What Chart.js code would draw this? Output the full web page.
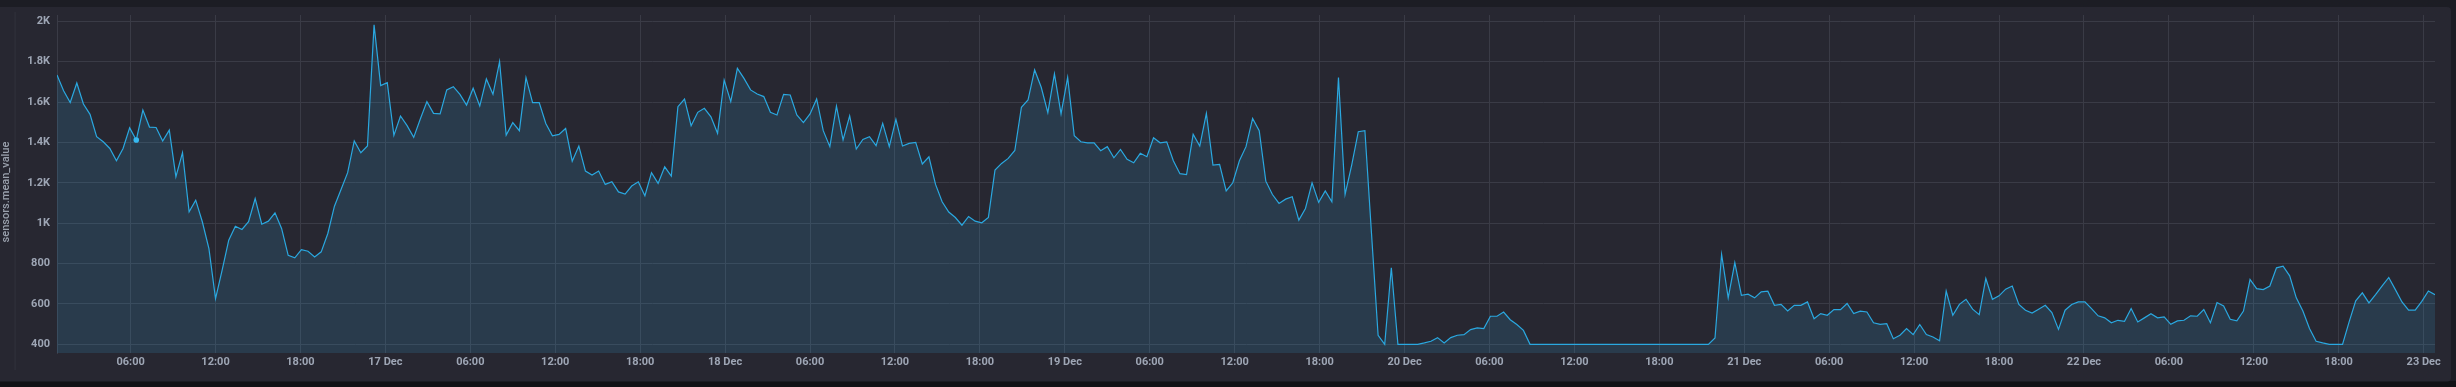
<!DOCTYPE html>
<html>
<head>
<meta charset="utf-8">
<script src="https://cdn.jsdelivr.net/npm/chart.js@4.4.1/dist/chart.umd.min.js"></script>
<style>
  html, body { margin: 0; padding: 0; background: #1c1d24; }
  canvas { display: block; }
</style>
</head>
<body>
<canvas id="sensorchart" width="2456" height="387"></canvas>
<script>
// time axis: hours counted from 16 Dec 00:00, one sample every 28 min
var startHour = 0.8;
var stepHours = 28 / 60;

var xTickHours = [6, 12, 18, 24, 30, 36, 42, 48, 54, 60, 66, 72, 78, 84, 90, 96,
                  102, 108, 114, 120, 126, 132, 138, 144, 150, 156, 162, 168];
var xTickLabels = ['06:00', '12:00', '18:00', '17 Dec', '06:00', '12:00', '18:00', '18 Dec',
                   '06:00', '12:00', '18:00', '19 Dec', '06:00', '12:00', '18:00', '20 Dec',
                   '06:00', '12:00', '18:00', '21 Dec', '06:00', '12:00', '18:00', '22 Dec',
                   '06:00', '12:00', '18:00', '23 Dec'];

var yTickValues = [400, 600, 800, 1000, 1200, 1400, 1600, 1800, 2000];
var yTickLabels = ['400', '600', '800', '1K', '1.2K', '1.4K', '1.6K', '1.8K', '2K'];

// sensors.mean_value
var meanValue = [
  1734, 1656, 1598, 1694, 1590, 1539, 1428, 1403, 1370, 1309, 1370, 1472, 1412, 1560, 1476, 1474,
  1407, 1461, 1230, 1349, 1056, 1114, 1007, 874, 626, 767, 916, 985, 969, 1007, 1122, 995,
  1010, 1051, 974, 841, 828, 869, 861, 833, 858, 949, 1084, 1167, 1250, 1407, 1349, 1382,
  1982, 1681, 1696, 1435, 1531, 1483, 1425, 1516,
  1602, 1544, 1541, 1660, 1676, 1638, 1585, 1668, 1580, 1714, 1638, 1800, 1436, 1498, 1458, 1721,
  1597, 1597, 1494, 1433, 1440, 1469, 1307, 1382, 1258, 1238, 1258, 1192, 1205, 1155, 1144, 1184,
  1205, 1136, 1250, 1197, 1279, 1233, 1577, 1615, 1483, 1549, 1569, 1527, 1445, 1709, 1602, 1767,
  1717, 1660, 1640, 1627, 1549, 1536, 1638, 1635, 1536, 1498, 1541, 1615,
  1458, 1379, 1580, 1412, 1532, 1367, 1415, 1428, 1384, 1494, 1379, 1514, 1382, 1395, 1400, 1293,
  1329, 1192, 1106, 1055, 1028, 990, 1033, 1010, 1002, 1028, 1263, 1296, 1321, 1360, 1574, 1610,
  1759, 1673, 1547, 1739, 1541, 1722, 1433, 1403, 1398, 1398, 1359, 1379, 1324, 1365, 1316, 1299,
  1346, 1329, 1423, 1398, 1403, 1309, 1245, 1241, 1440, 1382, 1544, 1288, 1291,
  1160, 1200, 1309, 1379, 1519, 1458, 1208, 1142, 1098, 1119, 1131, 1015, 1073, 1200, 1103, 1160,
  1106, 1721, 1142, 1288, 1453, 1458, 949, 445, 400, 779, 400, 400, 400, 400, 407, 415,
  433, 407, 433, 445, 448, 473, 481, 478, 539, 539, 560, 522, 498, 469, 400,
  400, 400, 400, 400, 400, 400, 400, 400, 400, 400, 400, 400, 400, 400, 400, 400,
  400, 400, 400, 400, 400, 400, 400, 400, 400, 400,
  400, 431, 845, 630, 805, 643, 648, 630, 660, 663, 593, 598, 565, 593, 593, 610,
  527, 552, 544, 572, 572, 602, 552, 564, 560, 507, 499, 502, 428, 445, 478, 448,
  498, 448, 436, 417, 664, 544, 598, 623, 574, 547, 726, 623, 640, 673, 689, 598,
  569, 555, 574, 593, 557, 474, 569, 597, 610, 610, 577, 541, 531, 507, 519, 514,
  577, 511, 531, 552, 531, 536, 499, 516, 519, 541, 539, 572, 507, 607, 590, 524,
  516, 565, 721, 676, 671, 689, 779, 787, 739, 630, 565, 478, 415, 407, 400, 400,
  400, 511, 615, 655, 605, 646, 689, 731, 671, 610, 569, 569, 613, 664, 646
];

var hoverIndex = 12;

var points = meanValue.map(function(v, i) {
    return { x: startHour + i * stepHours, y: v };
});

var panelBackground = {
    id: 'panelBackground',
    beforeDraw: function(chart) {
        var c = chart.ctx;
        c.save();
        c.fillStyle = '#1c1d24';
        c.fillRect(0, 0, chart.width, chart.height);
        c.fillStyle = '#111216';
        c.fillRect(0, 381, chart.width, chart.height - 381);
        c.fillStyle = '#272731';
        c.beginPath();
        c.roundRect(-10, 7, 2461, 374.5, 4);
        c.fill();
        // divider left of the axis title
        c.fillStyle = '#30313b';
        c.fillRect(14.5, 12, 1.2, 358);
        c.restore();
    },
    afterDraw: function(chart) {
        var c = chart.ctx;
        c.save();
        c.translate(6.5, 192);
        c.rotate(-Math.PI / 2);
        c.font = '500 11px Roboto';
        c.fillStyle = '#9aa1ad';
        c.textAlign = 'center';
        c.textBaseline = 'middle';
        c.fillText('sensors.mean_value', 0, 0);
        c.restore();
    }
};

var ctx = document.getElementById('sensorchart').getContext('2d');

var myChart = new Chart(ctx, {
    type: 'line',
    data: {
        datasets: [
            {
                data: points,
                fill: 'start',
                backgroundColor: 'rgba(52, 160, 215, 0.17)',
                borderColor: '#2aa8e0',
                borderWidth: 1.2,
                tension: 0,
                pointRadius: function(c) { return c.dataIndex === hoverIndex ? 2.8 : 0; },
                pointBackgroundColor: '#36b9f0',
                pointBorderWidth: 0,
                pointHoverRadius: 0
            }
        ]
    },
    options: {
        responsive: false,
        animation: false,
        layout: {
            padding: { top: 15, right: 21, left: 0, bottom: 0 }
        },
        scales: {
            x: {
                type: 'linear',
                min: startHour,
                max: startHour + (meanValue.length - 1) * stepHours,
                afterBuildTicks: function(scale) {
                    scale.ticks = xTickHours.map(function(h) { return { value: h }; });
                },
                afterFit: function(scale) { scale.height = 34; },
                grid: {
                    color: '#3a3b46',
                    lineWidth: 1,
                    drawTicks: false
                },
                border: { display: false },
                ticks: {
                    autoSkip: false,
                    maxRotation: 0,
                    padding: 3,
                    color: '#9ea6b5',
                    font: { family: 'Roboto', size: 11, weight: 'bold' },
                    callback: function(val, index) {
                        return xTickLabels[index];
                    }
                }
            },
            y: {
                min: 357,
                max: 2031,
                afterBuildTicks: function(scale) {
                    scale.ticks = yTickValues.map(function(v) { return { value: v }; });
                },
                afterFit: function(scale) { scale.width = 57; },
                grid: {
                    color: '#3a3b46',
                    lineWidth: 1,
                    drawTicks: false
                },
                border: { display: true, color: '#3a3b46' },
                ticks: {
                    padding: 7,
                    color: '#9ea6b5',
                    font: { family: 'Roboto', size: 11, weight: 'bold' },
                    callback: function(val, index) {
                        return yTickLabels[index];
                    }
                }
            }
        },
        plugins: {
            legend: { display: false },
            tooltip: { enabled: false }
        }
    },
    plugins: [panelBackground]
});
</script>
</body>
</html>
